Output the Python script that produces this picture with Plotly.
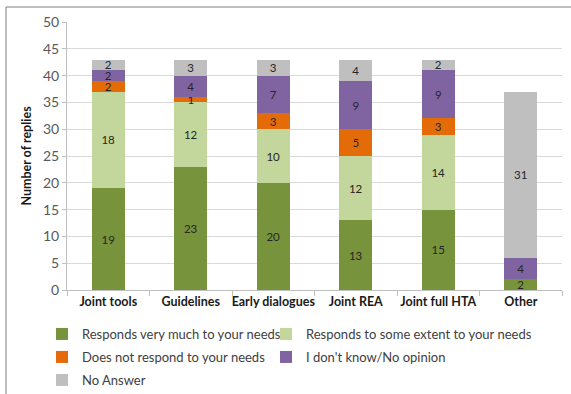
import plotly.graph_objects as go

categories = ["Joint tools", "Guidelines", "Early dialogues", "Joint REA", "Joint full HTA", "Other"]

responds_very_much = [19, 23, 20, 13, 15, 2]
responds_some_extent = [18, 12, 10, 12, 14, None]
does_not_respond = [2, 1, 3, 5, 3, None]
dont_know = [2, 4, 7, 9, 9, 4]
no_answer = [2, 3, 3, 4, 2, 31]

# (name, values, colour, legend id, legend column x in px, legend row top in px)
series = [
    ("Responds very much to your needs", responds_very_much, "#77933C", "legend", 42, 319),
    ("Responds to some extent to your needs", responds_some_extent, "#C3D69B", "legend2", 266, 319),
    ("Does not respond to your needs", does_not_respond, "#E36C09", "legend3", 42, 342),
    ("I don't know/No opinion", dont_know, "#8064A2", "legend4", 266, 342),
    ("No Answer", no_answer, "#BFBFBF", "legend5", 42, 365),
]

W, H = 571, 394
ML, MR, MT, MB = 67, 9, 22, 104
FONT = "Lato, 'Open Sans', sans-serif"

pw = W - ML - MR
ph = H - MT - MB

fig = go.Figure()
legends = {}
for name, vals, color, leg, lx, ly in series:
    fig.add_trace(go.Bar(
        name=name,
        x=categories,
        y=vals,
        legend=leg,
        marker=dict(color=color, line=dict(width=0)),
        text=[("" if v is None else str(v)) for v in vals],
        textposition="inside",
        insidetextanchor="middle",
        textangle=0,
        constraintext="none",
        textfont=dict(family=FONT, size=11.5, color="#262626"),
        hoverinfo="skip",
    ))
    legends[leg] = dict(
        orientation="v",
        x=(lx - ML) / pw,
        xanchor="left",
        y=(H - MB - ly) / ph,
        yanchor="top",
        font=dict(family=FONT, size=13, color="#404040"),
        itemwidth=30,
        bgcolor="rgba(0,0,0,0)",
    )

fig.update_layout(
    width=W,
    height=H,
    barmode="stack",
    bargap=0.6,
    margin=dict(l=ML, r=MR, t=MT, b=MB, pad=0, autoexpand=False),
    paper_bgcolor="white",
    plot_bgcolor="white",
    font=dict(family=FONT, color="#404040"),
    uniformtext=dict(minsize=11.5, mode="show"),
    showlegend=True,
    **legends,
    xaxis=dict(
        type="category",
        showgrid=False,
        showline=True,
        linecolor="#BFBFBF",
        linewidth=1,
        ticks="outside",
        tickson="boundaries",
        ticklen=5,
        tickcolor="#BFBFBF",
        tickangle=0,
        automargin=False,
        tickfont=dict(family=FONT, size=12.5, color="#1a1a1a", weight="bold"),
    ),
    yaxis=dict(
        range=[0, 50],
        dtick=5,
        showgrid=True,
        gridcolor="#D9D9D9",
        gridwidth=1,
        showline=True,
        linecolor="#BFBFBF",
        ticks="outside",
        ticklen=4,
        tickcolor="#BFBFBF",
        automargin=False,
        tickfont=dict(family=FONT, size=14, color="#595959"),
        title=dict(text="Number of replies", font=dict(family=FONT, size=12.5, color="#1a1a1a", weight="bold"), standoff=8),
        zeroline=False,
    ),
    shapes=[
        dict(
            type="rect",
            xref="paper", yref="paper",
            x0=(6 - ML) / pw, x1=(W + 10 - ML) / pw,
            y0=(H - MB - (H + 5)) / ph, y1=(H - MB - 7) / ph,
            line=dict(color="#7F7F7F", width=1),
            fillcolor="rgba(0,0,0,0)",
            layer="below",
        )
    ],
)

fig.write_html("out.html")
